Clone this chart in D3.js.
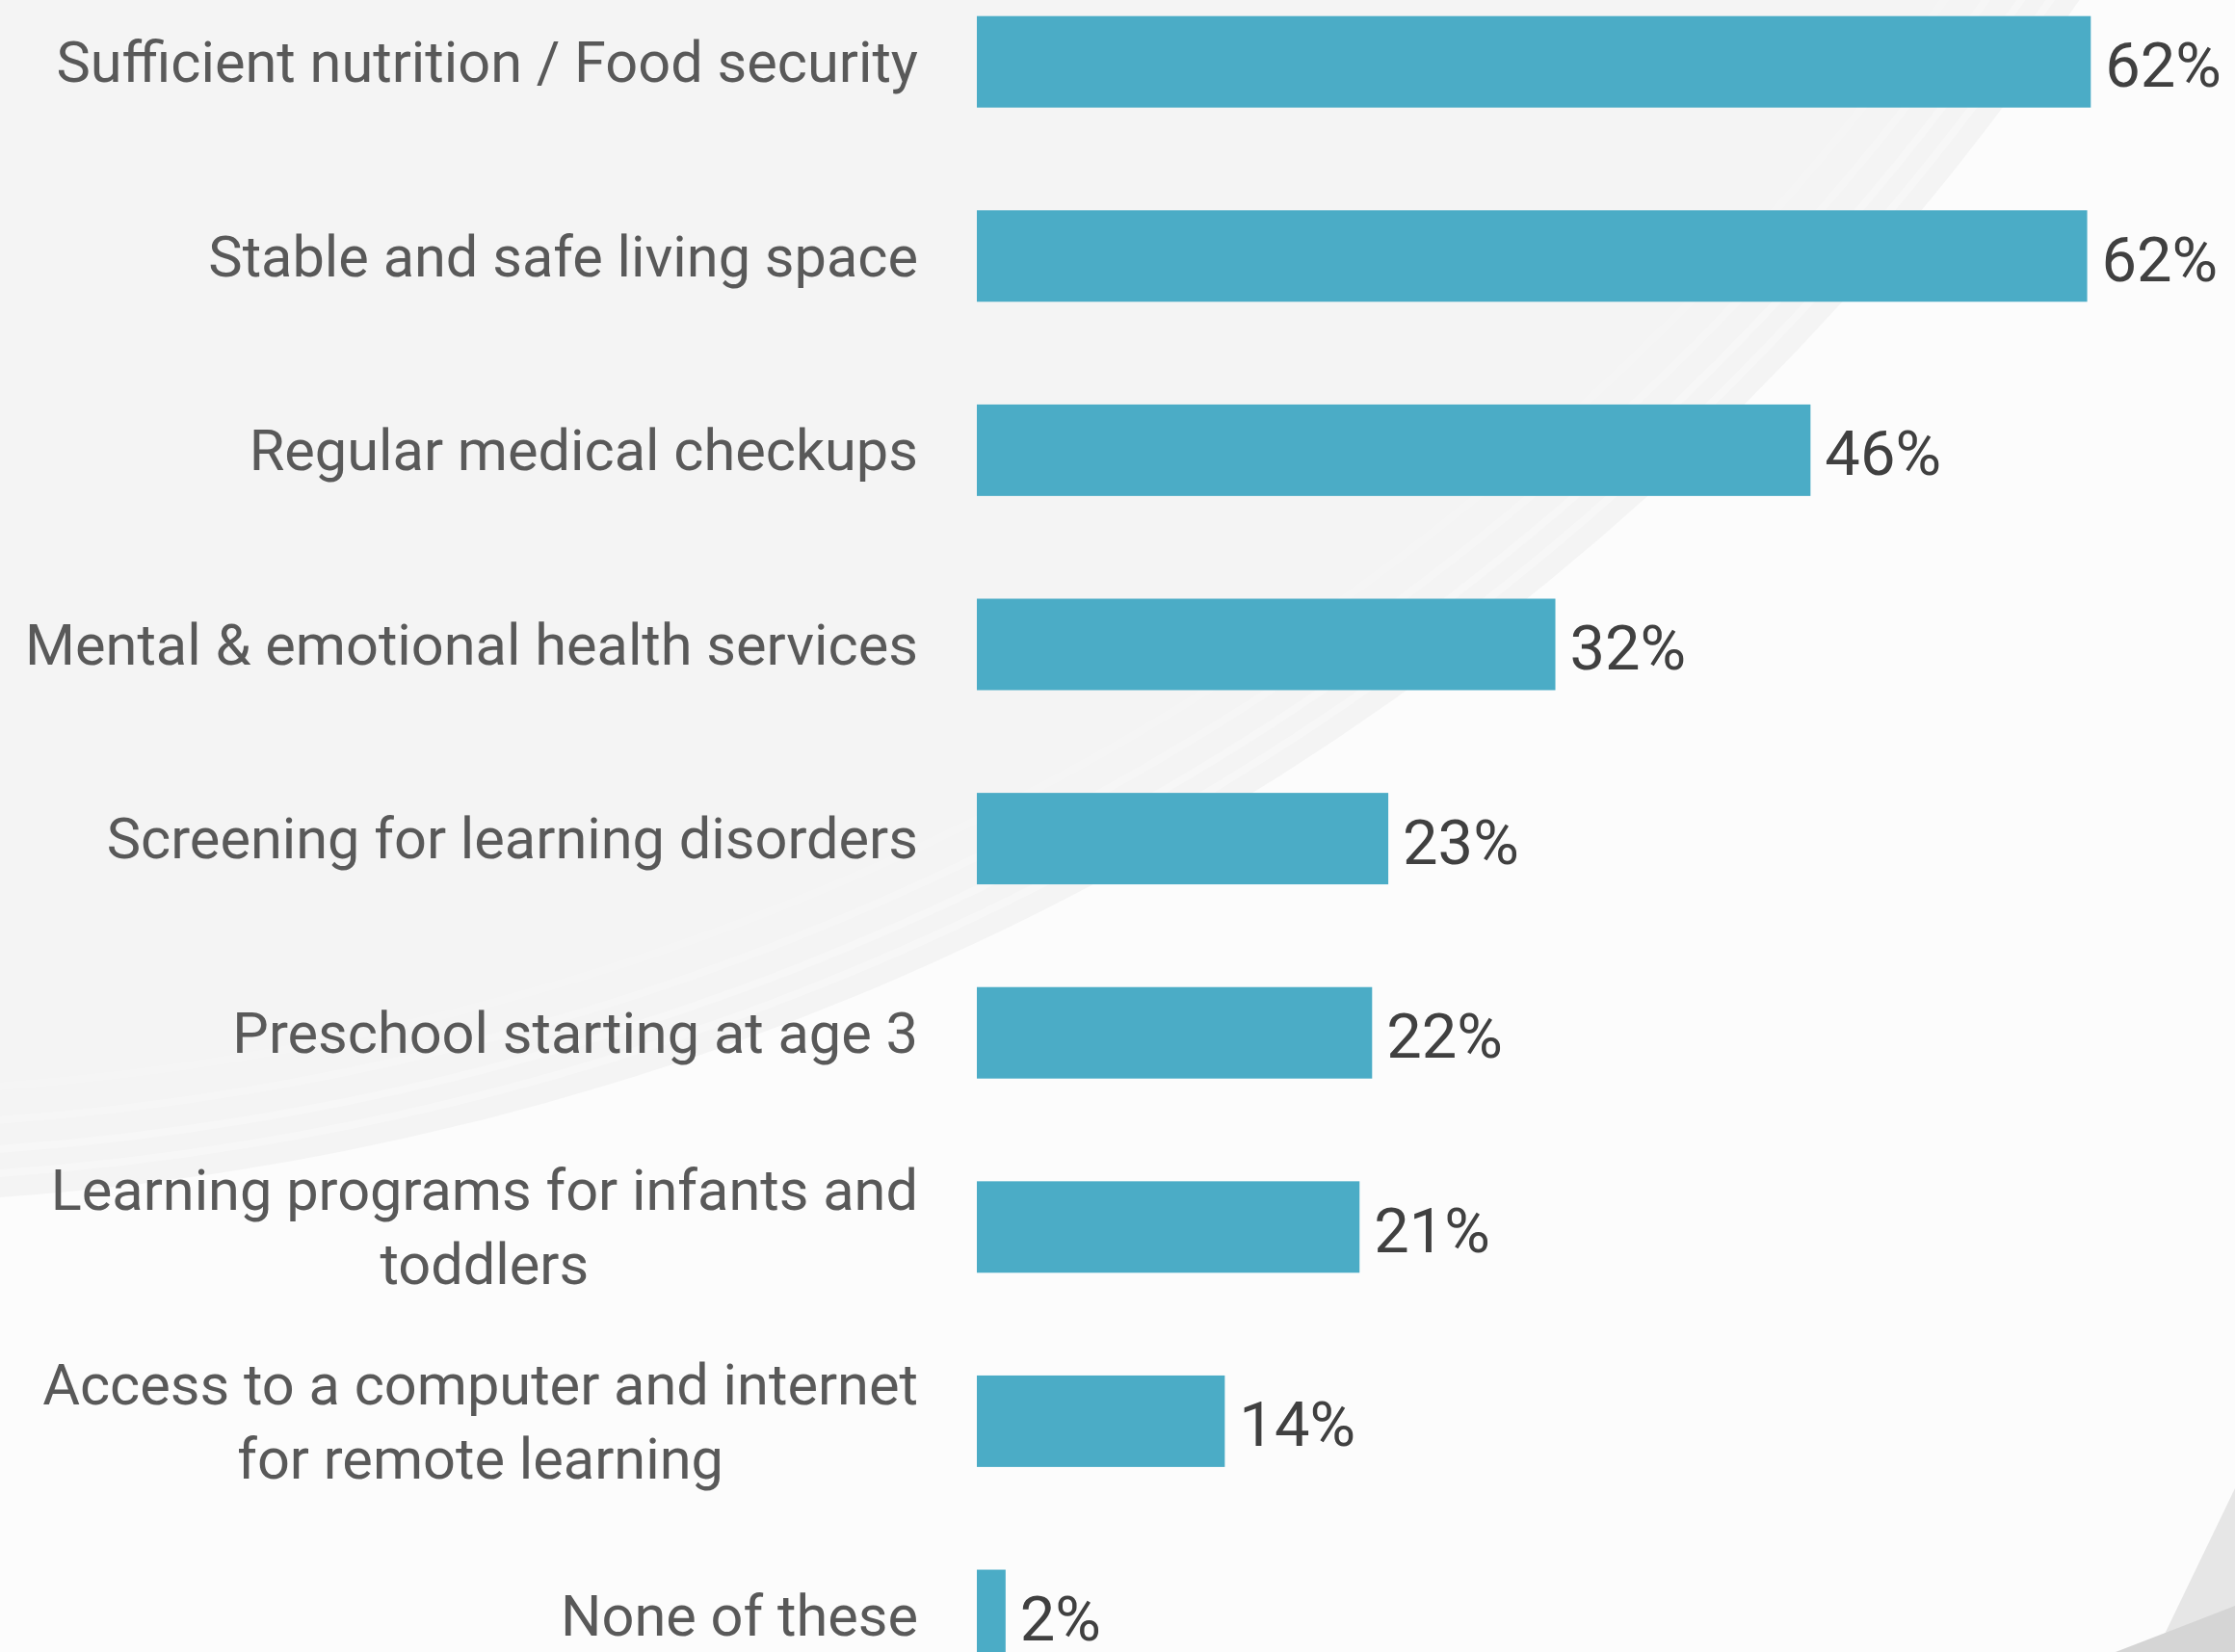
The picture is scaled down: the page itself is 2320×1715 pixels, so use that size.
<!DOCTYPE html>
<html>
<head>
<meta charset="utf-8">
<script src="https://cdn.jsdelivr.net/npm/d3@7"></script>
<style>
  body { margin: 0; background: #fcfcfc; }
  svg { display: block; }
  text { font-family: Roboto, "Open Sans", sans-serif; }
</style>
</head>
<body>
<div id="barChart"></div>
<script>
const width = 2320;
const height = 1715;

// data (percent of respondents)
const categories = [
    "Sufficient nutrition / Food security",
    "Stable and safe living space",
    "Regular medical checkups",
    "Mental & emotional health services",
    "Screening for learning disorders",
    "Preschool starting at age 3",
    "Learning programs for infants and\ntoddlers",
    "Access to a computer and internet\nfor remote learning",
    "None of these"
];
const values = [62.0, 61.8, 46.4, 32.2, 22.9, 22.0, 21.3, 13.8, 1.6];
const valueLabels = ["62%", "62%", "46%", "32%", "23%", "22%", "21%", "14%", "2%"];

const svg = d3.select("div#barChart").append("svg")
    .attr("width", width)
    .attr("height", height);

//--------------------------BACKGROUND--------------------------//
svg.append("rect")
    .attr("width", width)
    .attr("height", height)
    .attr("fill", "#fcfcfc");

// big grey swoosh in the top left
const swoosh = {cx: -200, cy: -1600, r: 2850};
svg.append("circle")
    .attr("cx", swoosh.cx)
    .attr("cy", swoosh.cy)
    .attr("r", swoosh.r)
    .attr("fill", "#f4f4f4");

[25, 50, 80, 115].forEach(function(off, i) {
    svg.append("circle")
        .attr("cx", swoosh.cx)
        .attr("cy", swoosh.cy)
        .attr("r", swoosh.r - off)
        .attr("fill", "none")
        .attr("stroke", "#ffffff")
        .attr("stroke-opacity", 0.3 - i * 0.05)
        .attr("stroke-width", 8);
});

// slide decoration in the bottom right corner
svg.append("path")
    .attr("d", "M2320,1545 L2238,1715 L2320,1715 Z")
    .attr("fill", "#e6e6e6");
svg.append("path")
    .attr("d", "M2320,1667 L2196,1715 L2320,1715 Z")
    .attr("fill", "#d5d5d5");

//----------------------------SCALES----------------------------//
const x = d3.scaleLinear()
    .domain([0, 100])
    .range([1014, 1014 + 1865]);

const y = d3.scaleBand()
    .domain(categories)
    .range([16.7, 1724.5])
    .paddingInner(0.529)
    .paddingOuter(0);

//-----------------------------BARS-----------------------------//
const rows = categories.map(function(c, i) {
    return {cat: c, value: values[i], label: valueLabels[i]};
});

svg.selectAll("rect.bar")
    .data(rows)
    .join("rect")
    .attr("class", "bar")
    .attr("x", x(0))
    .attr("y", d => y(d.cat))
    .attr("width", d => x(d.value) - x(0))
    .attr("height", y.bandwidth())
    .attr("fill", "#4bacc6");

svg.selectAll("text.value")
    .data(rows)
    .join("text")
    .attr("class", "value")
    .attr("x", d => x(d.value) + 15)
    .attr("y", d => y(d.cat) + y.bandwidth() / 2)
    .attr("dy", "0.4em")
    .style("font-size", "65px")
    .attr("fill", "#404040")
    .text(d => d.label);

//----------------------------LABELS----------------------------//
const labelRight = 953;
const fontSize = 59.5;
const lineHeight = 1.29;

svg.selectAll("text.cat")
    .data(rows)
    .join("text")
    .attr("class", "cat")
    .attr("y", d => y(d.cat) + y.bandwidth() / 2)
    .style("font-size", fontSize + "px")
    .attr("fill", "#595959")
    .each(function(d) {
        const lines = d.cat.split("\n");
        const t = d3.select(this);
        const spans = lines.map(function(ln, i) {
            return t.append("tspan")
                .attr("dy", i === 0 ? (0.35 - (lines.length - 1) * lineHeight / 2) + "em" : lineHeight + "em")
                .text(ln);
        });
        if (lines.length === 1) {
            t.attr("text-anchor", "end");
            spans[0].attr("x", labelRight);
        } else {
            // centred block, right edge lined up with the others
            const widest = d3.max(spans, s => s.node().getComputedTextLength());
            t.attr("text-anchor", "middle");
            spans.forEach(s => s.attr("x", labelRight - widest / 2));
        }
    });
</script>
</body>
</html>
